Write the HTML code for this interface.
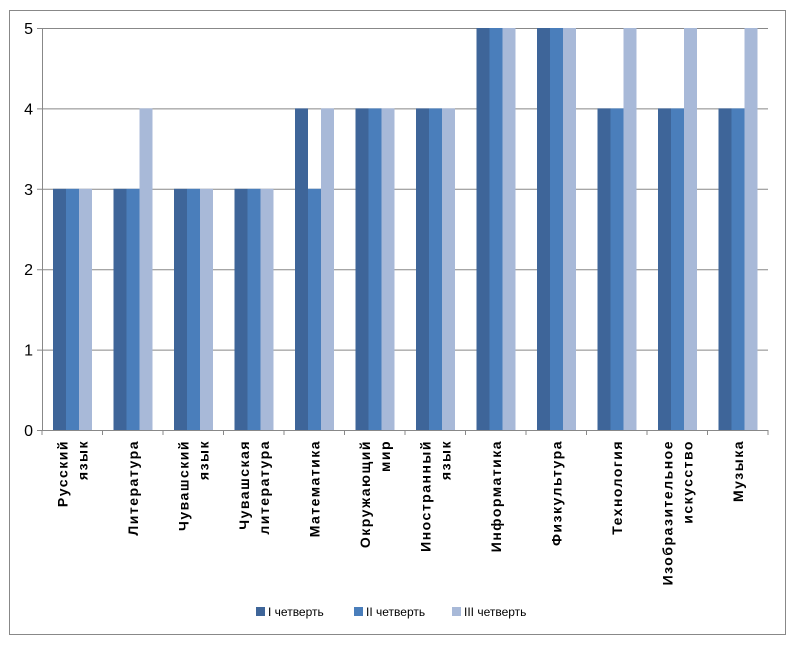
<!DOCTYPE html>
<html><head><meta charset="utf-8"><style>
body{margin:0;background:#fff;width:795px;height:645px;overflow:hidden}
svg{display:block;font-family:"Liberation Sans",sans-serif}
</style></head><body>
<svg id="chart" width="795" height="645" xmlns="http://www.w3.org/2000/svg">
<rect x="9.5" y="10.5" width="776" height="624" fill="#fff" stroke="#888"/>
<g id="grid"></g><g id="bars"></g><g id="axes"></g><g id="labels"></g>
<g font-size="12" fill="#000">
<rect x="256" y="607" width="9" height="9" fill="#3e6599"/>
<text x="268" y="616">I четверть</text>
<rect x="354" y="607" width="9" height="9" fill="#4a7ebb"/>
<text x="366" y="616">II четверть</text>
<rect x="452" y="607" width="9" height="9" fill="#a8b9d8"/>
<text x="464" y="616">III четверть</text>
</g>
</svg>
<script>
const categories=[["Русский","язык"],["Литература"],["Чувашский","язык"],["Чувашская","литература"],["Математика"],["Окружающий","мир"],["Иностранный","язык"],["Информатика"],["Физкультура"],["Технология"],["Изобразительное","искусство"],["Музыка"]];
const q1=[3,3,3,3,4,4,4,5,5,4,4,4];
const q2=[3,3,3,3,3,4,4,5,5,4,4,4];
const q3=[3,4,3,3,4,4,4,5,5,5,5,5];
const yTicks=[0,1,2,3,4,5];
const NS="http://www.w3.org/2000/svg";
const x0=42,x1=768,yTop=28,yBot=430,yMax=5;
const cw=(x1-x0)/categories.length;
function yS(v){return yBot-(v/yMax)*(yBot-yTop);}
function xS(i){return x0+i*cw;}
function mk(tag,attrs,parent){const e=document.createElementNS(NS,tag);for(const k in attrs)e.setAttribute(k,attrs[k]);document.getElementById(parent).appendChild(e);return e;}
yTicks.forEach(t=>{
  const l=mk("line",{x1:x0-5,x2:x1,y1:yS(t)+.5,y2:yS(t)+.5,stroke:"#888"},"grid");
  
  
  const tx=mk("text",{x:x0-9,y:yS(t)+6,"text-anchor":"end","font-size":"16",fill:"#000"},"axes");
  tx.textContent=t;
  
  
});
const ax=mk("line",{x1:x0+.5,x2:x0+.5,y1:yTop,y2:yBot,stroke:"#888"},"axes");


for(let i=0;i<=categories.length;i++){
  const tk=mk("line",{x1:xS(i),x2:xS(i),y1:yBot,y2:yBot+5,stroke:"#888"},"axes");
  
  
}
const series=[q1,q2,q3],colors=["#3e6599","#4a7ebb","#a8b9d8"],bw=13;
categories.forEach((c,i)=>{
  series.forEach((s,j)=>{
    const r=mk("rect",{x:xS(i)+11+j*bw,y:yS(s[i]),width:bw,height:yBot-yS(s[i]),fill:colors[j]},"bars");
    
    
  });
  const cx=xS(i)+cw/2;
  const n=c.length;
  c.forEach((line,k)=>{
    const lx=n===1?cx+5:cx-5+k*20;
    const t=mk("text",{transform:`translate(${lx},440) rotate(-90)`,"text-anchor":"end","font-size":"14","font-weight":"bold","letter-spacing":"1.5",fill:"#000"},"labels");
    t.textContent=line;
    
    
  });
});
</script>
</body></html>
